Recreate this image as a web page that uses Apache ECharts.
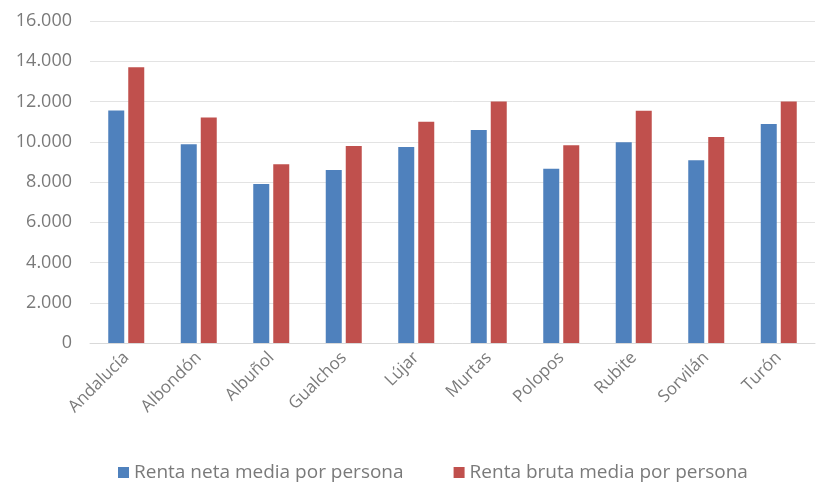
<!DOCTYPE html>
<html>
<head>
<meta charset="utf-8">
<script src="https://cdn.jsdelivr.net/npm/echarts@6/dist/echarts.min.js"></script>
<style>
  html, body { margin: 0; padding: 0; background: #fff; }
  #chart { width: 823px; height: 484px; }
</style>
</head>
<body>
<div id="chart"></div>
<script>
const categories = ["Andalucía", "Albondón", "Albuñol", "Gualchos", "Lújar", "Murtas", "Polopos", "Rubite", "Sorvilán", "Turón"];
const rentaNeta = [11550, 9870, 7900, 8600, 9740, 10580, 8660, 9970, 9080, 10880];
const rentaBruta = [13700, 11200, 8880, 9790, 11000, 12000, 9820, 11540, 10240, 12000];
const seriesNames = ["Renta neta media por persona", "Renta bruta media por persona"];

function fmt(v) {
  return String(v).replace(/\B(?=(\d{3})+(?!\d))/g, ".");
}

const chart = echarts.init(document.getElementById("chart"));
chart.setOption({
  animation: false,
  color: ["#4f81bd", "#c0504d"],
  textStyle: { fontFamily: "Open Sans" },
  grid: { left: 90, right: 8, top: 21, bottom: 141 },
  legend: {
    top: 458,
    left: 113,
    itemWidth: 11,
    itemHeight: 11,
    itemGap: 50,
    icon: "rect",
    textStyle: { color: "#7a7a7a", fontSize: 19 },
    data: seriesNames
  },
  xAxis: {
    type: "category",
    data: categories,
    axisLine: { lineStyle: { color: "#d9d9d9" } },
    axisTick: { show: false },
    axisLabel: { rotate: 45, color: "#7a7a7a", fontSize: 17, margin: 12, interval: 0 }
  },
  yAxis: {
    type: "value",
    min: 0,
    max: 16000,
    interval: 2000,
    axisLine: { show: false },
    axisTick: { show: false },
    splitLine: { lineStyle: { color: "#e3e3e3" } },
    axisLabel: { color: "#7a7a7a", fontSize: 18, margin: 18, formatter: fmt }
  },
  series: [
    { name: seriesNames[0], type: "bar", data: rentaNeta, barWidth: 16, barGap: "25%" },
    { name: seriesNames[1], type: "bar", data: rentaBruta, barWidth: 16, barGap: "25%" }
  ]
});
</script>
</body>
</html>
